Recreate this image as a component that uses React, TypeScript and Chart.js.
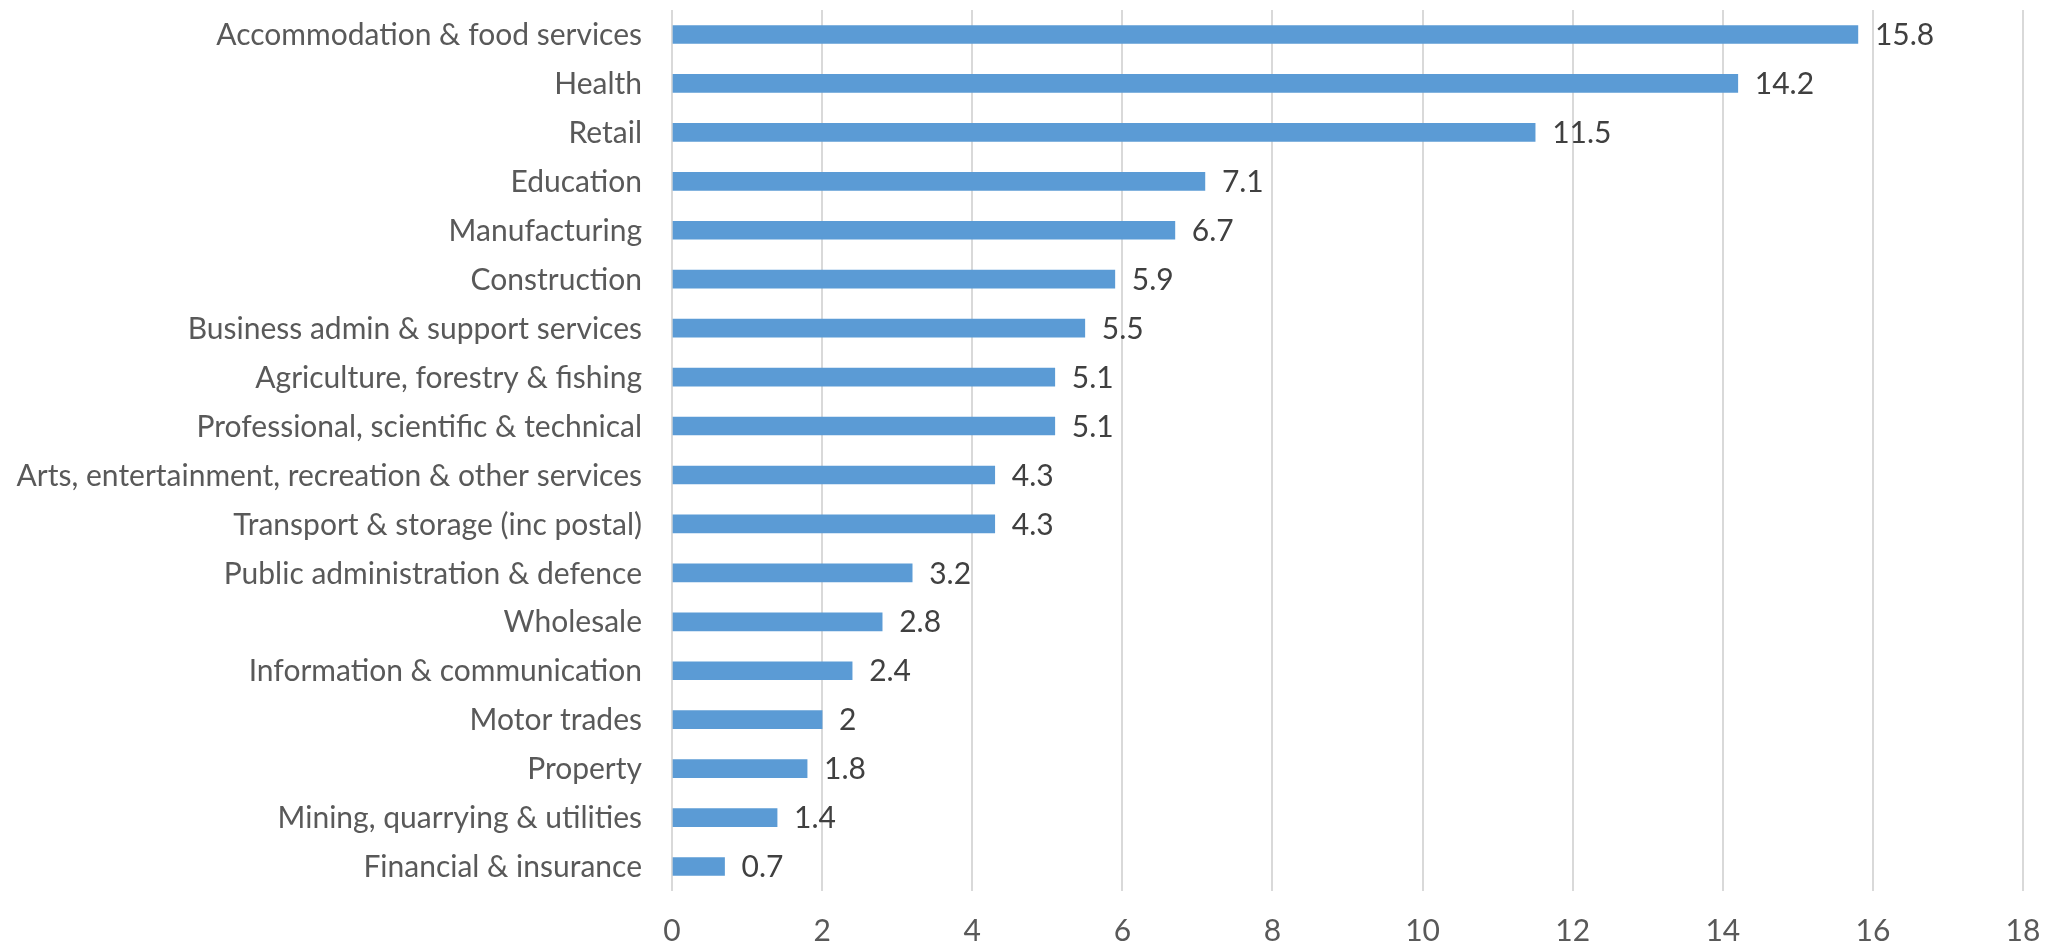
import React, { useEffect, useRef } from "react";
import { Chart, registerables } from "chart.js";

Chart.register(...registerables);

const categories = [
  "Accommodation & food services",
  "Health",
  "Retail",
  "Education",
  "Manufacturing",
  "Construction",
  "Business admin & support services",
  "Agriculture, forestry & fishing",
  "Professional, scientific & technical",
  "Arts, entertainment, recreation & other services",
  "Transport & storage (inc postal)",
  "Public administration & defence",
  "Wholesale",
  "Information & communication",
  "Motor trades",
  "Property",
  "Mining, quarrying & utilities",
  "Financial & insurance",
];

const values = [15.8, 14.2, 11.5, 7.1, 6.7, 5.9, 5.5, 5.1, 5.1, 4.3, 4.3, 3.2, 2.8, 2.4, 2, 1.8, 1.4, 0.7];

const xMin = 0;
const xMax = 18;
const xStep = 2;

const FONT = "Lato, 'Open Sans', sans-serif";
const FONT_SIZE = 30;

const labelPlugin = {
  id: "labelsPlugin",
  afterDatasetsDraw(chart: any) {
    const ctx = chart.ctx;
    const meta = chart.getDatasetMeta(0);
    const area = chart.chartArea;
    ctx.save();
    ctx.font = `${FONT_SIZE}px ${FONT}`;
    ctx.textBaseline = "middle";
    meta.data.forEach((bar: any, i: number) => {
      ctx.fillStyle = "#404040";
      ctx.textAlign = "left";
      ctx.fillText(String(values[i]), bar.x + 17, bar.y + 1);
      ctx.fillStyle = "#595959";
      ctx.textAlign = "right";
      ctx.fillText(categories[i], area.left - 30, bar.y + 1);
    });
    ctx.restore();
  },
};

export default function App() {
  const ref = useRef<HTMLCanvasElement | null>(null);
  useEffect(() => {
    if (!ref.current) return;
    const chart = new Chart(ref.current, {
      type: "bar",
      data: {
        labels: categories,
        datasets: [
          {
            data: values,
            backgroundColor: "#5B9BD5",
            barThickness: 18,
          },
        ],
      },
      options: {
        indexAxis: "y",
        animation: false,
        responsive: false,
        maintainAspectRatio: false,
        layout: { padding: { top: 10, right: 27, bottom: 0, left: 0 } },
        plugins: { legend: { display: false }, tooltip: { enabled: false } },
        scales: {
          x: {
            min: xMin,
            max: xMax,
            ticks: {
              stepSize: xStep,
              color: "#595959",
              font: { family: FONT, size: FONT_SIZE },
              padding: 22,
              maxRotation: 0,
            },
            grid: { color: "#D9D9D9", lineWidth: 2, drawTicks: false },
            border: { display: false },
            afterFit: (s: any) => {
              s.height = 55;
              s.paddingLeft = 0;
              s.paddingRight = 0;
            },
          },
          y: {
            ticks: { display: false },
            grid: { display: false, drawTicks: false },
            border: { display: false },
            afterFit: (s: any) => {
              s.width = 672;
              s.paddingTop = 0;
              s.paddingBottom = 0;
            },
          },
        },
      },
      plugins: [labelPlugin],
    });
    return () => chart.destroy();
  }, []);
  return (
    <div style={{ position: "fixed", left: 0, top: 0, width: 2050, height: 946, background: "#fff" }}>
      <canvas ref={ref} width={2050} height={946} style={{ width: 2050, height: 946 }} />
    </div>
  );
}
